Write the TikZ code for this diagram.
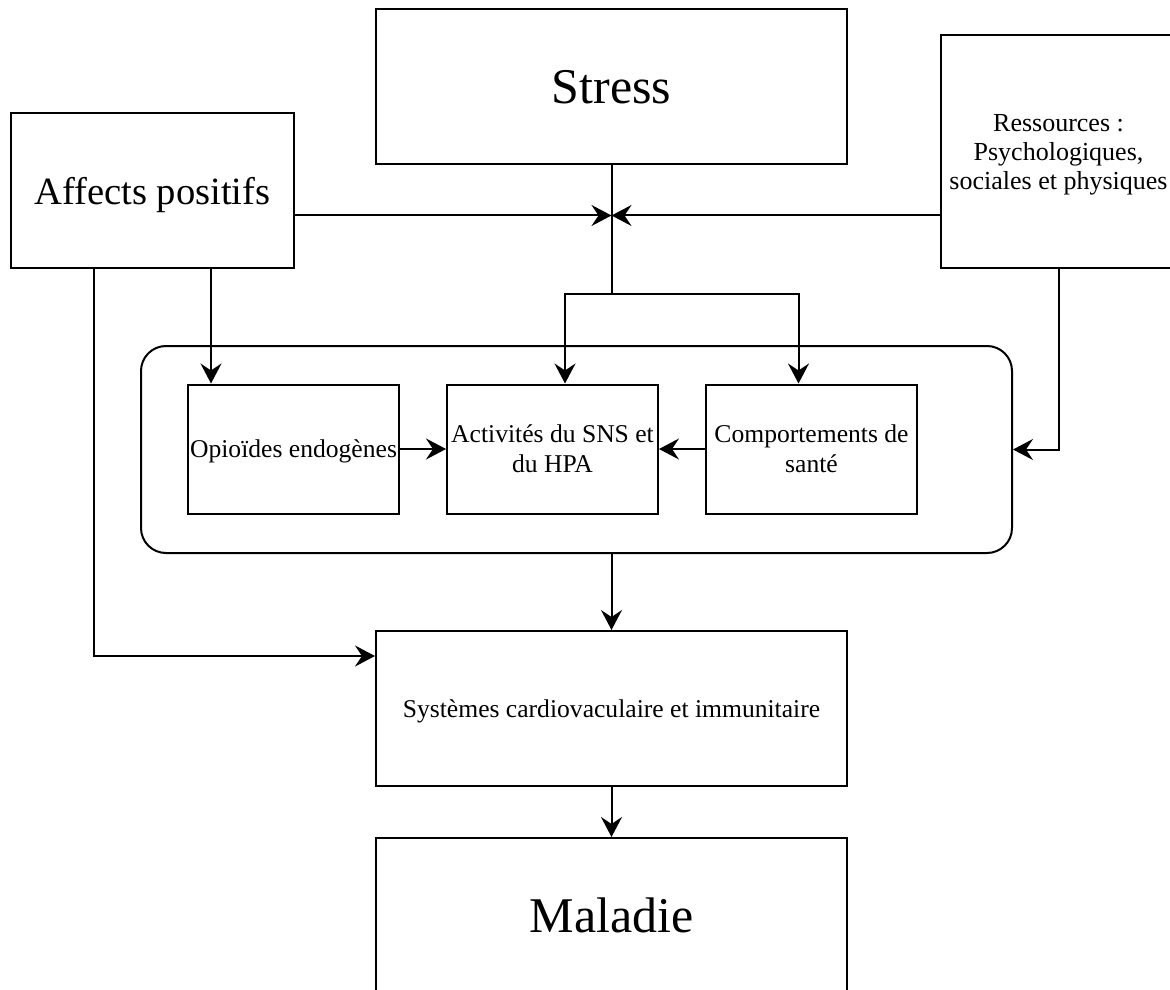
\documentclass[tikz,border=0pt]{standalone}
\usepackage{fontspec}
\setmainfont{Liberation Serif}
\usepackage{tikz}
\usetikzlibrary{arrows.meta, positioning}

\begin{document}
\begin{tikzpicture}[x=0.5pt, y=-0.5pt, >={Stealth[length=10pt, width=10.5pt, inset=3.5pt]},
    line width=1pt, node distance=129.5pt,
    box/.style={draw, rectangle, inner sep=0pt, align=center, text depth=0pt},
    big/.style={box, minimum width=235.5pt, minimum height=77.5pt},
    small/.style={box, minimum width=105.5pt, minimum height=64.5pt, font=\fontsize{12.8}{15}\selectfont}]
    \useasboundingbox (0,0) rectangle (1170,989);

    \node[big, font=\fontsize{25}{30}\selectfont] (stress) at (611.5,86.5) {Stress};
    \node[box, minimum width=141.5pt, minimum height=77.5pt, font=\fontsize{19.3}{23}\selectfont] (affect) at (152.5,190.5) {Affects positifs};
    \node[box, minimum width=117.5pt, minimum height=116.5pt, font=\fontsize{13}{14.5}\selectfont] (res) at (1058.5,151.5) {Ressources :\\Psychologiques,\\sociales et physiques};
    \node[box, rounded corners=12.5pt, minimum width=435.5pt, minimum height=103.5pt] (grp) at (576.5,449.5) {};
    \node[small] (opio) at (293.5,449) {Opioïdes endogènes};
    \node[small] (activ) [right of=opio] {Activités du SNS et\\du HPA};
    \node[small] (comp) [right of=activ] {Comportements de\\santé};
    \node[big, font=\fontsize{12.8}{15}\selectfont] (sys) at (611.5,708.5) {Systèmes cardiovaculaire et immunitaire};
    \node[big, font=\fontsize{25}{30}\selectfont] (mal) at (611.5,915.5) {Maladie};

    \coordinate (meet) at (611.5,215.5);
    \coordinate (split) at (611.5,294);

    \draw (stress) -- (split);
    \draw[->] (split) -| ([xshift=6.25pt]activ.north);
    \draw[->] (split) -| ([xshift=-6.5pt]comp.north);
    \draw[->] (affect.east |- meet) -- (meet);
    \draw[->] (res.west |- meet) -- (meet);
    \draw[->] ([xshift=29.25pt]affect.south) -- ([xshift=29.25pt]affect.south |- opio.north);
    \draw[->] ([xshift=-29.25pt]affect.south) |- ([yshift=26.25pt]sys.west);
    \draw[->] (res.south) |- (grp.east);
    \draw[->] (grp.south -| sys.north) -- (sys.north);
    \path[->] (opio) edge (activ)
              (comp) edge (activ)
              (sys) edge (mal);
\end{tikzpicture}
\end{document}
